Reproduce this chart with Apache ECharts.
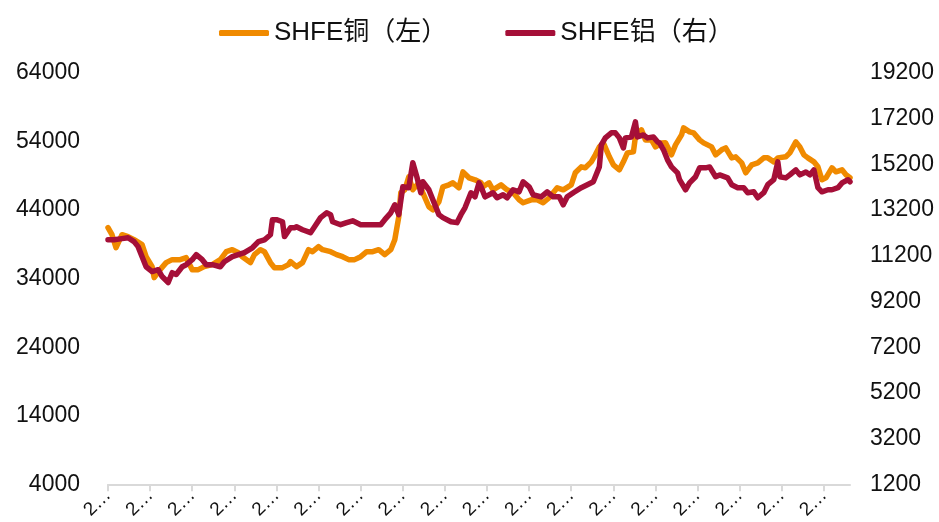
<!DOCTYPE html>
<html>
<head>
<meta charset="utf-8">
<script src="https://cdn.jsdelivr.net/npm/echarts@6/dist/echarts.min.js"></script>
<style>
  html, body { margin: 0; padding: 0; background: #ffffff; }
  #chart { width: 939px; height: 522px; }
</style>
</head>
<body>
<div id="chart"></div>
<script>
// ---- data ----
const seriesNames = ['SHFE铜（左）', 'SHFE铝（右）'];
const leftTicks = [4000, 14000, 24000, 34000, 44000, 54000, 64000];
const rightTicks = [1200, 3200, 5200, 7200, 9200, 11200, 13200, 15200, 17200, 19200];
const dayCount = 371;          // trading days on the category axis
const startDate = '2015-07-01';

// trading-day index -> price
const copperDay = [0,2,4,7,10,13,17,19,22,23,26,29,32,36,39,42,45,48,52,56,59,62,65,67,71,73,76,78,81,83,87,90,91,94,97,100,102,105,107,111,114,117,120,123,126,129,132,135,138,141,143,145,146,148,150,152,155,157,160,162,165,167,170,172,175,177,180,183,186,187,190,192,196,199,202,205,207,211,214,217,220,224,227,231,233,236,238,241,243,245,247,250,252,255,257,259,262,263,266,268,271,273,276,278,281,283,286,287,290,292,295,297,301,303,306,308,311,313,316,318,321,324,327,329,332,334,338,340,343,345,347,349,352,354,356,358,361,363,366,368,370];
const copperPrice = [41430,40410,38510,40410,40120,39680,38950,37200,35750,34150,35310,36330,36770,36770,37060,35310,35310,35750,36040,36770,37930,38220,37790,37200,36330,37500,38220,37930,36330,35600,35600,36040,36480,35750,36330,38220,37930,38660,38220,37930,37500,37200,36770,36770,37200,37930,37930,38220,37500,38220,39680,43030,46520,46960,48850,46960,47980,46520,44490,44050,45210,47400,47690,47980,47250,49580,48710,48420,47980,47400,47980,46960,47690,46960,46520,45500,45070,45500,45500,45070,45800,47250,46960,47690,49440,50310,50170,51040,52060,53220,53810,51770,50600,49870,51040,52350,52490,54680,55700,54240,54240,53220,53800,53810,52060,53510,54970,55990,55410,55260,54240,53810,53220,52060,52790,53080,51620,51770,50890,49440,50600,50890,51620,51620,51040,51620,51770,52350,53950,53220,52060,51620,51040,50310,48420,48710,50170,49580,49870,49150,48710];

const aluDay = [0,3,7,10,13,15,17,19,22,25,27,30,32,34,37,39,42,44,47,49,52,56,58,62,65,68,72,75,78,81,82,84,87,88,91,93,94,97,101,103,106,109,111,112,116,119,122,126,129,132,136,138,141,143,145,147,150,152,154,156,157,160,162,165,167,171,174,176,178,181,183,185,186,188,192,194,197,199,202,205,207,210,212,216,219,222,225,227,229,232,236,239,242,245,246,248,251,253,255,257,258,261,263,264,267,269,272,274,275,277,279,281,284,285,288,290,293,295,298,300,303,305,309,311,314,317,319,322,324,327,329,332,334,335,338,340,343,345,348,350,352,354,356,359,361,364,366,369,370];
const aluPrice = [11900,11900,11950,11990,11820,11600,11160,10720,10510,10590,10290,10030,10460,10380,10720,10810,11030,11250,11030,10810,10810,10720,10940,11160,11250,11340,11550,11820,11900,12120,12780,12780,12690,12040,12430,12430,12470,12340,12210,12470,12870,13080,13000,12690,12560,12650,12730,12560,12560,12560,12560,12780,13080,13430,13000,14220,14180,15270,14660,13960,14440,14090,13650,13000,12870,12690,12650,13000,13300,13960,13780,14390,14220,13780,13960,13740,13870,13740,14090,14000,14440,14220,13870,13780,14000,13780,13780,13430,13780,13960,14180,14310,14440,15090,16050,16360,16580,16580,16360,15920,16360,16400,17060,16400,16490,16360,16400,16190,16140,15840,15400,15090,14830,14530,14090,14390,14660,15050,15050,15090,14660,14740,14610,14310,14180,14180,13960,14000,13740,13960,14310,14530,15310,14660,14610,14740,14960,14740,14870,14740,14960,14180,14000,14090,14090,14180,14390,14530,14440];

// ---- category axis: trading days ----
const dates = [];
(function () {
  const d = new Date(startDate + 'T00:00:00Z');
  while (dates.length < dayCount) {
    const wd = d.getUTCDay();
    if (wd !== 0 && wd !== 6) dates.push(d.toISOString().slice(0, 10));
    d.setUTCDate(d.getUTCDate() + 1);
  }
})();

const copperData = copperDay.map((i, k) => [i, copperPrice[k]]);
const aluData = aluDay.map((i, k) => [i, aluPrice[k]]);

const FONT = '"Liberation Sans", Arial, "Noto Sans CJK SC", sans-serif';
const plain = v => String(v);
const chart = echarts.init(document.getElementById('chart'), null, { renderer: 'canvas' });
chart.setOption({
  animation: false,
  backgroundColor: '#ffffff',
  textStyle: { fontFamily: FONT },
  legend: {
    top: 15,
    left: 214,
    itemGap: 58,
    itemWidth: 50,
    itemHeight: 6,
    icon: 'roundRect',
    textStyle: { fontSize: 26, color: '#111', fontFamily: '"Liberation Sans", "Noto Sans CJK SC", sans-serif' },
    data: seriesNames
  },
  grid: { left: 108, right: 89, top: 73, bottom: 37, containLabel: false },
  xAxis: {
    type: 'category',
    data: dates,
    boundaryGap: false,
    axisLine: { show: true, lineStyle: { color: '#D9D9D9', width: 2 } },
    axisTick: { show: true, interval: 20, length: 7, lineStyle: { color: '#D9D9D9', width: 2 } },
    axisLabel: {
      interval: 20,
      rotate: 45,
      fontSize: 19,
      color: '#111',
      margin: 8,
      width: 31,
      overflow: 'truncate',
      ellipsis: '…'
    },
    splitLine: { show: false }
  },
  yAxis: [
    {
      type: 'value',
      min: leftTicks[0],
      max: leftTicks[leftTicks.length - 1],
      position: 'left',
      axisLine: { show: false },
      axisTick: { show: false },
      splitLine: { show: false },
      axisLabel: { customValues: leftTicks, formatter: plain, fontSize: 23, color: '#111', margin: 28 }
    },
    {
      type: 'value',
      min: rightTicks[0],
      max: rightTicks[rightTicks.length - 1],
      position: 'right',
      axisLine: { show: false },
      axisTick: { show: false },
      splitLine: { show: false },
      axisLabel: { customValues: rightTicks, formatter: plain, fontSize: 23, color: '#111', margin: 20 }
    }
  ],
  series: [
    {
      name: seriesNames[0],
      type: 'line',
      yAxisIndex: 0,
      data: copperData,
      symbol: 'none',
      color: '#F08A00',
      lineStyle: { width: 5.5, color: '#F08A00', join: 'round', cap: 'round' },
      z: 2
    },
    {
      name: seriesNames[1],
      type: 'line',
      yAxisIndex: 1,
      data: aluData,
      symbol: 'none',
      color: '#A50F38',
      lineStyle: { width: 5.5, color: '#A50F38', join: 'round', cap: 'round' },
      z: 3
    }
  ]
});
</script>
</body>
</html>
